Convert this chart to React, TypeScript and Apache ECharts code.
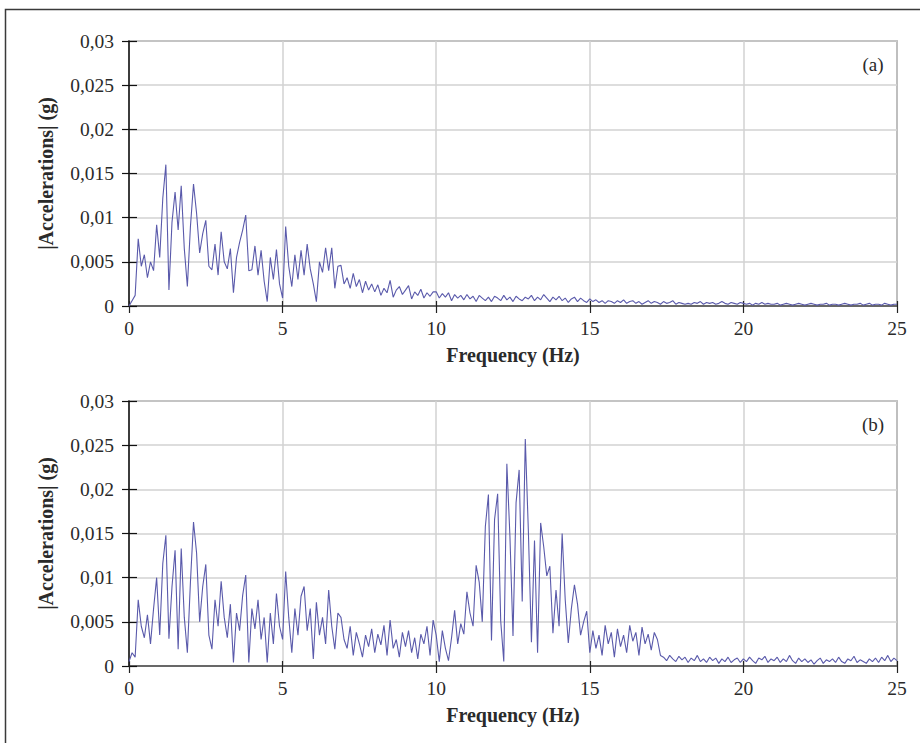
import React, { useEffect, useRef } from "react";
import * as echarts from "echarts";

// Frequency sampling of the read-off spectra (Hz)
const FREQ_STEP = 0.1;
const X_TICKS = [0, 5, 10, 15, 20, 25];
const Y_TICKS = [0, 0.005, 0.01, 0.015, 0.02, 0.025, 0.03];

// |Accelerations| in milli-g, one value per 0.1 Hz from 0 to 25 Hz
const specA_mg = [
  0, 0.6, 1.2, 7.6, 4.5, 5.8, 3.2, 5.0, 4.0, 9.2,
  5.5, 12.2, 16.0, 1.8, 9.5, 12.9, 8.6, 13.6, 6.5, 2.2,
  9.0, 13.8, 10.5, 6.0, 8.2, 9.7, 4.5, 4.1, 7.0, 3.5,
  8.4, 5.0, 4.2, 6.5, 1.5, 5.5, 7.2, 8.6, 10.3, 4.0,
  4.1, 6.8, 3.5, 6.3, 2.8, 0.5, 5.5, 3.0, 6.4, 2.5,
  0.9, 9.0, 4.5, 2.2, 5.8, 3.0, 6.3, 3.5, 7.0, 4.2,
  2.5, 0.5, 5.0, 3.8, 6.6, 4.0, 6.6, 2.0, 4.5, 4.6,
  2.5, 3.2, 2.0, 3.7, 2.2, 3.0, 1.5, 2.8, 1.8, 2.5,
  1.6, 2.4, 1.2, 2.0, 1.5, 2.9, 1.0, 1.8, 2.2, 1.3,
  1.8, 2.3, 0.8, 1.6, 1.2, 1.9, 0.9, 1.5, 1.1, 1.6,
  1.6, 0.9, 1.4, 1.0, 1.5, 0.6, 1.3, 0.9, 1.2, 0.7,
  1.3, 0.8, 1.1, 0.5, 1.2, 0.9, 0.6, 1.0, 0.5, 1.1,
  0.9, 0.6, 1.2, 0.7, 1.0, 0.5, 1.1, 0.8, 0.6, 1.0,
  0.8, 1.2, 0.6, 1.0, 0.7, 1.3, 0.9, 0.5, 1.0, 0.7,
  1.1, 0.6, 0.9, 0.4, 0.8, 1.0, 0.5, 0.9, 0.6, 0.4,
  0.8, 0.5, 0.7, 0.4, 0.6, 0.3, 0.6, 0.5, 0.3, 0.6,
  0.4, 0.7, 0.3, 0.5, 0.6, 0.3, 0.5, 0.2, 0.4, 0.6,
  0.3, 0.5, 0.4, 0.2, 0.5, 0.3, 0.4, 0.6, 0.2, 0.4,
  0.3, 0.2, 0.3, 0.2, 0.4, 0.3, 0.5, 0.2, 0.4, 0.3,
  0.4, 0.2, 0.3, 0.5, 0.3, 0.2, 0.4, 0.3, 0.2, 0.4,
  0.3, 0.2, 0.3, 0.1, 0.3, 0.2, 0.4, 0.2, 0.3, 0.2,
  0.2, 0.3, 0.1, 0.2, 0.3, 0.2, 0.1, 0.2, 0.3, 0.2,
  0.1, 0.2, 0.3, 0.2, 0.1, 0.2, 0.2, 0.3, 0.1, 0.2,
  0.2, 0.1, 0.2, 0.3, 0.2, 0.1, 0.2, 0.2, 0.3, 0.1,
  0.2, 0.3, 0.1, 0.2, 0.2, 0.1, 0.3, 0.2, 0.1, 0.2,
  0.2,
];

const specB_mg = [
  0.5, 1.5, 1.0, 7.5, 4.5, 3.2, 5.8, 2.5, 6.5, 10.0,
  3.5, 11.6, 14.8, 3.1, 9.0, 13.1, 1.9, 13.3, 5.5, 1.5,
  9.5, 16.3, 12.8, 5.0, 9.0, 11.5, 3.5, 1.9, 7.5, 4.5,
  9.6, 5.5, 3.2, 7.0, 0.4, 6.0, 4.0, 8.0, 10.3, 0.4,
  6.5, 4.2, 7.5, 3.0, 5.5, 0.4, 6.0, 2.5, 8.2, 4.5,
  3.0, 10.7, 5.5, 1.5, 6.5, 3.5, 7.9, 9.0, 4.0, 6.5,
  0.8, 7.2, 3.5, 5.5, 2.5, 8.6, 4.5, 1.9, 6.0, 5.5,
  3.0, 2.0, 4.5, 1.2, 3.8, 2.5, 1.0, 3.5, 2.2, 4.2,
  1.5, 3.6, 2.4, 4.6, 1.2, 5.2, 2.0, 3.0, 1.0, 3.8,
  2.2, 4.0, 1.5, 3.2, 0.8, 3.6, 2.5, 4.5, 1.2, 5.2,
  3.5, 0.5, 4.0, 2.0, 0.6, 3.2, 6.3, 2.5, 4.8, 3.6,
  8.4, 6.0, 4.5, 11.4, 9.5, 5.0, 15.8, 19.4, 2.9, 16.6,
  19.5, 5.1, 0.5, 22.9, 14.7, 3.4, 18.5, 22.2, 7.3, 25.7,
  15.3, 2.7, 14.2, 1.5, 16.2, 13.5, 10.2, 11.3, 3.7, 8.6,
  4.5, 15.0, 7.5, 2.6, 6.5, 9.2, 7.0, 3.5, 5.0, 6.2,
  1.5, 4.0, 2.0, 3.5, 1.2, 4.6, 2.5, 3.8, 1.0, 4.2,
  2.2, 3.5, 1.5, 4.6, 2.8, 3.8, 1.2, 4.4, 2.5, 3.6,
  1.8, 3.8, 3.0, 1.2, 1.0, 0.6, 1.2, 0.8, 0.5, 1.1,
  0.7, 1.0, 0.4, 0.9, 0.6, 1.2, 0.5, 0.8, 0.4, 1.0,
  0.6, 0.9, 0.3, 0.8, 0.5, 1.0, 0.4, 0.7, 0.9, 0.4,
  0.8, 0.5, 1.0, 0.6, 0.3, 0.9, 0.7, 1.1, 0.4, 0.8,
  0.6, 1.0, 0.4, 0.8, 0.5, 1.2, 0.6, 0.3, 0.9, 0.5,
  0.8, 0.4, 0.7, 0.2, 0.6, 0.9, 0.3, 0.7, 0.5, 0.8,
  0.4, 1.0, 0.5, 0.3, 0.8, 0.6, 1.1, 0.4, 0.7, 0.5,
  0.3, 0.8, 0.5, 0.9, 0.4, 1.0, 0.6, 1.2, 0.5, 0.9,
  0.6,
];

const PANEL_LABELS = ["(a)", "(b)"];
const X_NAME = "Frequency (Hz)";
const Y_NAME = "|Accelerations| (g)";

const FONT = "'Liberation Serif', 'DejaVu Serif', serif";
const LINE_COLOR = "#5a5aab";

const toPairs = (mg: number[]) =>
  mg.map((v, i) => [+(i * FREQ_STEP).toFixed(1), v / 1000]);

const fmtY = (v: number) =>
  v === 0 ? "0" : String(+v.toFixed(3)).replace(".", ",");

export default function App() {
  const ref = useRef<HTMLDivElement>(null);

  useEffect(() => {
    if (!ref.current) return;
    const chart = echarts.init(ref.current, undefined, { renderer: "svg" });
    const tops = [41, 401];
    const gridH = 265;

    const grids = tops.map((t) => ({
      left: 129,
      top: t,
      width: 768,
      height: gridH,
      show: true,
      borderColor: "#3a3a3a",
      borderWidth: 1.2,
      backgroundColor: "transparent",
    }));

    const nameStyle = {
      fontFamily: FONT,
      fontSize: 20,
      fontWeight: "bold",
      color: "#2a2a2a",
    };
    const tickStyle = { fontFamily: FONT, fontSize: 19.5, color: "#2a2a2a" };

    const xMain = tops.map((_, g) => ({
      type: "value",
      gridIndex: g,
      position: "bottom",
      min: X_TICKS[0],
      max: X_TICKS[X_TICKS.length - 1],
      interval: 5,
      name: X_NAME,
      nameLocation: "middle",
      nameGap: 39,
      nameTextStyle: nameStyle,
      axisLine: { show: true, lineStyle: { color: "#4a4a4a", width: 1.5 } },
      axisTick: { show: true, inside: false, length: 7, lineStyle: { color: "#222", width: 1.2 } },
      axisLabel: { ...tickStyle, margin: 12 },
      splitLine: { show: true, lineStyle: { color: "#d2d2d2", width: 1.5 } },
    }));
    const xInner = tops.map((_, g) => ({
      type: "value",
      gridIndex: g,
      position: "bottom",
      min: X_TICKS[0],
      max: X_TICKS[X_TICKS.length - 1],
      interval: 5,
      axisLine: { show: false },
      axisTick: { show: true, inside: true, length: 5, lineStyle: { color: "#222", width: 1.2 } },
      axisLabel: { show: false },
      splitLine: { show: false },
    }));
    const yMain = tops.map((_, g) => ({
      type: "value",
      gridIndex: g,
      position: "left",
      min: Y_TICKS[0],
      max: Y_TICKS[Y_TICKS.length - 1],
      interval: 0.005,
      name: Y_NAME,
      nameLocation: "middle",
      nameGap: 73,
      nameTextStyle: nameStyle,
      axisLine: { show: true, lineStyle: { color: "#111", width: 1.5 } },
      axisTick: { show: true, inside: false, length: 7, lineStyle: { color: "#111", width: 1.2 } },
      axisLabel: { ...tickStyle, margin: 15, formatter: fmtY },
      splitLine: { show: true, lineStyle: { color: "#d2d2d2", width: 1.5 } },
    }));
    const yInner = tops.map((_, g) => ({
      type: "value",
      gridIndex: g,
      position: "left",
      min: Y_TICKS[0],
      max: Y_TICKS[Y_TICKS.length - 1],
      interval: 0.005,
      axisLine: { show: false },
      axisTick: { show: true, inside: true, length: 8, lineStyle: { color: "#111", width: 1.2 } },
      axisLabel: { show: false },
      splitLine: { show: false },
    }));

    const series = [specA_mg, specB_mg].map((d, g) => ({
      type: "line",
      xAxisIndex: g,
      yAxisIndex: g,
      data: toPairs(d),
      showSymbol: false,
      symbol: "none",
      lineStyle: { color: LINE_COLOR, width: 1.1 },
      z: 3,
    }));

    const graphic: any[] = [
      {
        type: "polyline",
        shape: { points: [[5.5, 743], [5.5, 9.5], [920, 9.5]] },
        style: { stroke: "#3a3a3a", lineWidth: 1.5, fill: "none" },
        silent: true,
      },
      ...PANEL_LABELS.map((t, i) => ({
        type: "text",
        x: 873,
        y: tops[i] + 23,
        style: {
          text: t,
          fontFamily: FONT,
          fontSize: 19,
          fill: "#2a2a2a",
          align: "center",
          verticalAlign: "middle",
        },
        silent: true,
      })),
    ];

    chart.setOption({
      animation: false,
      textStyle: { fontFamily: FONT },
      grid: grids,
      xAxis: [...xMain, ...xInner],
      yAxis: [...yMain, ...yInner],
      series,
      graphic,
    } as any);

    return () => chart.dispose();
  }, []);

  return (
    <div
      ref={ref}
      style={{
        position: "fixed",
        left: 0,
        top: 0,
        width: 920,
        height: 743,
        background: "#fff",
      }}
    />
  );
}
